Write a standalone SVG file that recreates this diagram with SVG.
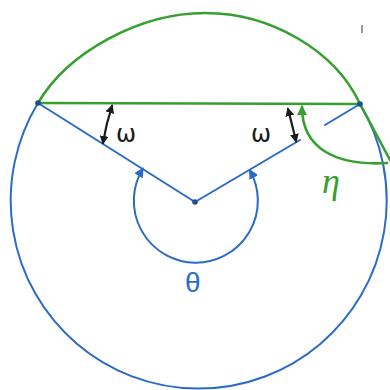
<svg xmlns="http://www.w3.org/2000/svg" width="390" height="390" viewBox="0 0 390 390">
<style>
.b{fill:none;stroke:#2a6bc8;stroke-width:2;stroke-linecap:round}
.g{fill:none;stroke:#35a02e;stroke-width:2.6;stroke-linecap:round}
.k{fill:none;stroke:#1a1a1a;stroke-width:2.2;stroke-linecap:round}
.dot{fill:#1f4e8c}
.lbl{font-family:"DejaVu Sans",sans-serif;font-size:24px}
</style>
<defs>
<marker id="ab" viewBox="0 0 10 10" refX="8" refY="5" markerWidth="5" markerHeight="5" orient="auto-start-reverse"><path d="M0,0 L10,5 L0,10 z" fill="#2a6bc8"/></marker>
<marker id="ak" viewBox="0 0 10 10" refX="8" refY="5" markerWidth="4" markerHeight="4" orient="auto-start-reverse"><path d="M0,0 L10,5 L0,10 z" fill="#1a1a1a"/></marker>
<marker id="ag" viewBox="0 0 10 10" refX="8" refY="5" markerWidth="4" markerHeight="4" orient="auto-start-reverse"><path d="M0,0 L10,5 L0,10 z" fill="#35a02e"/></marker>
</defs>
<rect width="390" height="390" fill="#fff"/>
<g id="circle">
<path class="b" d="M 38 103 A 188 188 0 1 0 360 104"/>
<path class="g" d="M 38 103 C 68 52, 140 13, 205 13 C 270 13, 335 50, 360 104"/>
</g>
<g id="chord"><line class="g" x1="38" y1="103" x2="360" y2="104"/></g>
<g id="tangent"><line class="g" x1="360" y1="104" x2="390" y2="160" stroke-width="2"/></g>
<g id="radii">
<line class="b" x1="38" y1="103" x2="195" y2="202"/>
<line class="b" x1="195" y1="202" x2="300" y2="140"/>
<line class="b" x1="325" y1="125" x2="360" y2="104"/>
</g>
<g id="connectors">
<path class="b" d="M 142.6 168.9 A 62 62 0 1 0 250 170.5" marker-start="url(#ab)" marker-end="url(#ab)"/>
<path class="k" d="M 112 106 Q 106 124 103 143" marker-start="url(#ak)" marker-end="url(#ak)"/>
<path class="k" d="M 288 109 Q 292 124 296 141" marker-start="url(#ak)" marker-end="url(#ak)"/>
<path class="g" d="M 387 163 C 335 166, 302 148, 302 107" marker-end="url(#ag)"/>
<line x1="362" y1="25" x2="362" y2="33" stroke="#333" stroke-width="1"/>
</g>
<g id="points">
<circle class="dot" cx="38" cy="103" r="2.8"/>
<circle class="dot" cx="360" cy="104" r="2.8"/>
<circle class="dot" cx="195" cy="202" r="2.8"/>
</g>
<g id="labels">
<text class="lbl" x="116" y="142" fill="#1a1a1a">ω</text>
<text class="lbl" x="251" y="142" fill="#1a1a1a">ω</text>
<text x="185" y="292" font-family="Liberation Sans,sans-serif" font-size="28" fill="#2a6bc8">θ</text>
<text x="322" y="193" font-family="Liberation Serif,serif" font-style="italic" font-size="36" fill="#35a02e">η</text>
</g>
</svg>
